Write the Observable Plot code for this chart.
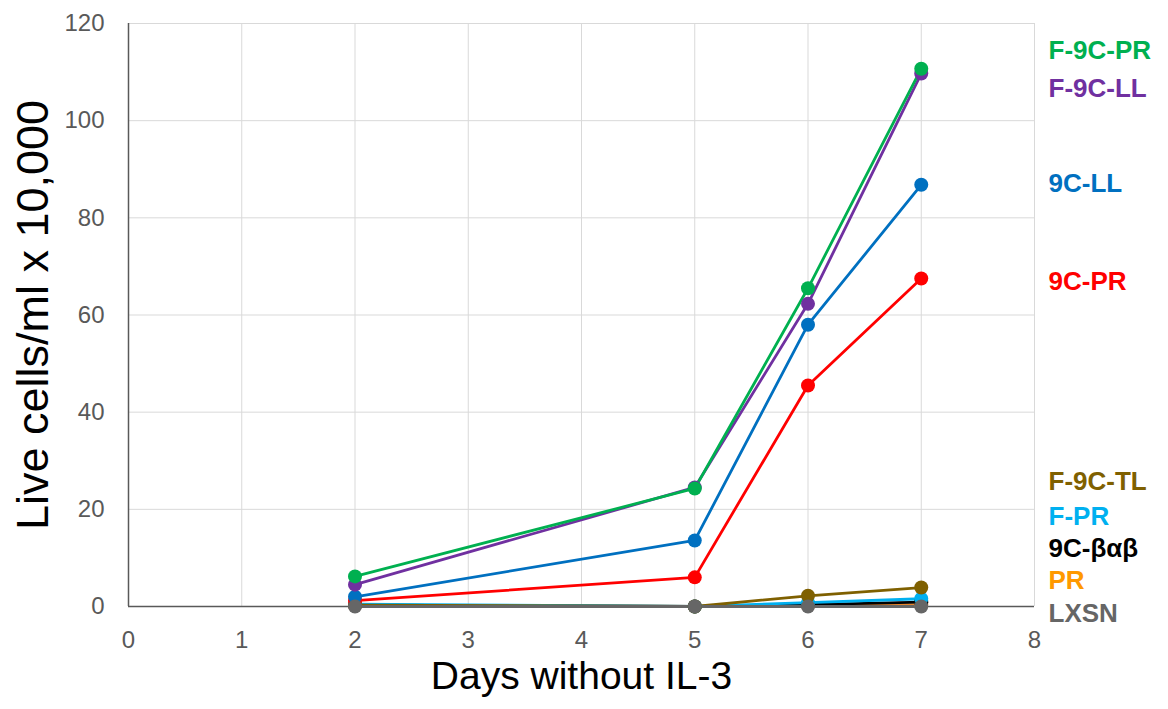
<!DOCTYPE html>
<html>
<head>
<meta charset="utf-8">
<script src="https://cdn.jsdelivr.net/npm/d3@7"></script>
<script src="https://cdn.jsdelivr.net/npm/@observablehq/plot@0.6"></script>
<style>
  html, body { margin: 0; padding: 0; background: #fff; }
  #chart svg { display: block; }
</style>
</head>
<body>
<div id="chart"></div>
<script>
// Data
const days = [2, 5, 6, 7];
const seriesNames = ["PR", "9C-βαβ", "F-PR", "F-9C-TL", "9C-PR", "9C-LL", "F-9C-LL", "F-9C-PR", "LXSN"];
const seriesColors = ["#E8862A", "#000000", "#00B0F0", "#7F6000", "#FF0000", "#0070C0", "#7030A0", "#00B050", "#666666"];
const seriesValues = [
  [0.2, 0, 0.2, 0.4],      // PR
  [0.3, 0, 0.4, 0.9],      // 9C-βαβ
  [0.5, 0, 0.8, 1.6],      // F-PR
  [0.3, 0, 2.2, 3.9],      // F-9C-TL
  [1.2, 6.0, 45.5, 67.5],  // 9C-PR
  [2.0, 13.6, 58.0, 86.8], // 9C-LL
  [4.5, 24.5, 62.3, 109.7],// F-9C-LL
  [6.2, 24.3, 65.5, 110.7],// F-9C-PR
  [0, 0, 0, 0]             // LXSN
];
// Right-hand labels, top to bottom, with the y value each is aligned to
const labelNames = ["F-9C-PR", "F-9C-LL", "9C-LL", "9C-PR", "F-9C-TL", "F-PR", "9C-βαβ", "PR", "LXSN"];
const labelColors = ["#00B050", "#7030A0", "#0070C0", "#FF0000", "#7F6000", "#00B0F0", "#000000", "#FF9900", "#666666"];
const labelAt = [114.4, 106.6, 87.0, 66.9, 25.7, 18.5, 11.9, 5.3, -1.4];
const xTicks = [0, 1, 2, 3, 4, 5, 6, 7, 8];
const yTicks = [0, 20, 40, 60, 80, 100, 120];

const rows = [];
seriesNames.forEach((name, i) => {
  days.forEach((d, j) => rows.push({series: name, day: d, value: seriesValues[i][j], order: i}));
});
const labels = labelNames.map((name, i) => ({name, y: labelAt[i], color: labelColors[i]}));

const font = "Liberation Sans, Arial, sans-serif";

const chart = Plot.plot({
  width: 1168,
  height: 709,
  marginLeft: 128,
  marginRight: 134,
  marginTop: 23,
  marginBottom: 103,
  style: {fontFamily: font, background: "#fff"},
  x: {domain: [0, 8], ticks: xTicks},
  y: {domain: [0, 120], ticks: yTicks},
  color: {domain: seriesNames, range: seriesColors},
  marks: [
    Plot.gridX(xTicks, {stroke: "#d9d9d9", strokeOpacity: 1, strokeWidth: 1}),
    Plot.gridY(yTicks, {stroke: "#d9d9d9", strokeOpacity: 1, strokeWidth: 1}),
    Plot.axisX(xTicks, {tickSize: 0, tickPadding: 24, fontSize: 24, color: "#595959", label: null, tickFormat: d => String(d)}),
    Plot.axisY(yTicks, {tickSize: 0, tickPadding: 24, fontSize: 24, color: "#595959", label: null, tickFormat: d => String(d)}),
    Plot.ruleX([0], {stroke: "#595959", strokeWidth: 1.5}),
    Plot.ruleY([0], {stroke: "#595959", strokeWidth: 1.5}),
    Plot.line(rows, {x: "day", y: "value", z: "series", stroke: "series", strokeWidth: 2.8}),
    Plot.dot(rows, {x: "day", y: "value", fill: "series", r: 7, stroke: null}),
    Plot.text(labels, {
      x: 8, y: "y", text: "name", fill: "color", dx: 14, textAnchor: "start",
      fontSize: 26, fontWeight: "bold", clip: false
    }),
    Plot.text(["Live cells/ml x 10,000"], {
      frameAnchor: "left", textAnchor: "middle", dx: -95, rotate: -90, fontSize: 45, fill: "#000"
    }),
    Plot.text(["Days without IL-3"], {
      frameAnchor: "bottom", textAnchor: "middle", dy: 82, fontSize: 39, fill: "#000"
    })
  ]
});
document.getElementById("chart").appendChild(chart);
</script>
</body>
</html>
